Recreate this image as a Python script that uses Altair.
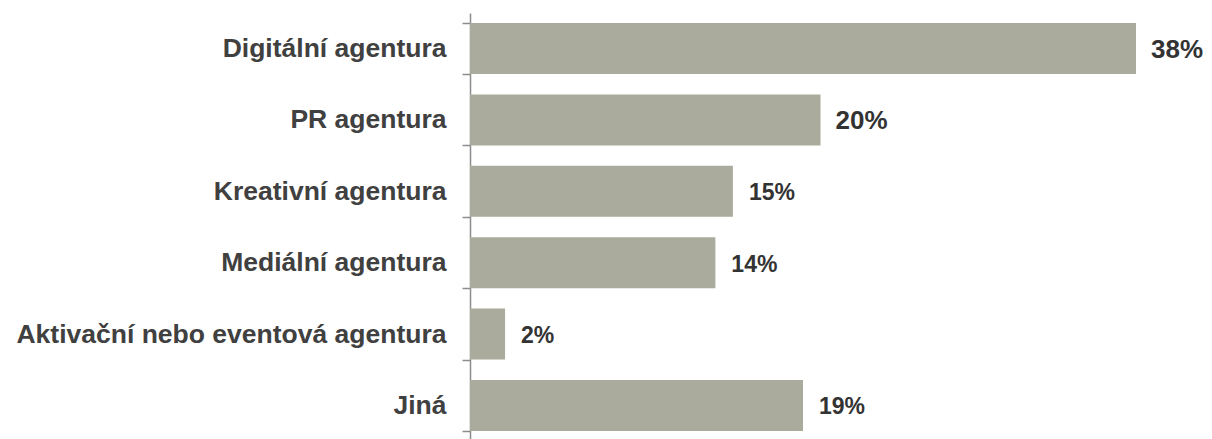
import altair as alt
import pandas as pd

categories = ["Digitální agentura", "PR agentura", "Kreativní agentura",
              "Mediální agentura", "Aktivační nebo eventová agentura", "Jiná"]
values = [38, 20, 15, 14, 2, 19]
labels = ["38%", "20%", "15%", "14%", "2%", "19%"]

df = pd.DataFrame({"cat": categories, "value": values, "label": labels})

y = alt.Y("cat:N", sort=categories, title=None,
          scale=alt.Scale(paddingInner=0.285, paddingOuter=0.14),
          axis=alt.Axis(tickBand="extent", tickSize=8, tickWidth=1.5,
                        tickColor="#8c8c8c", domainColor="#8c8c8c", domainWidth=1.5,
                        labelFont="Liberation Sans", labelFontWeight="bold",
                        labelFontSize=26.5, labelColor="#404040", labelPadding=16,
                        labelLimit=600))
x = alt.X("value:Q", scale=alt.Scale(domain=[0, 38], nice=False, zero=True),
          axis=None)

bars = alt.Chart(df).mark_bar(color="#abab9d").encode(x=x, y=y)

big = alt.Chart(df).transform_filter("datum.value >= 20").mark_text(
    align="left", baseline="middle", dx=15, dy=1, font="Liberation Sans",
    fontWeight="bold", fontSize=26, color="#333333").encode(
    x=x, y=alt.Y("cat:N", sort=categories), text="label:N")

small = alt.Chart(df).transform_filter("datum.value < 20").mark_text(
    align="left", baseline="middle", dx=16, dy=2, font="Liberation Sans",
    fontWeight="bold", fontSize=23, color="#333333").encode(
    x=x, y=alt.Y("cat:N", sort=categories), text="label:N")

chart = alt.layer(bars, big, small).properties(
    width=666, height=428,
    autosize=alt.AutoSizeParams(type="none"),
    padding={"left": 462, "top": 5, "right": 68, "bottom": 0},
).configure_view(stroke=None)

chart.save("out.html", embed_options={"renderer": "svg", "actions": False})
